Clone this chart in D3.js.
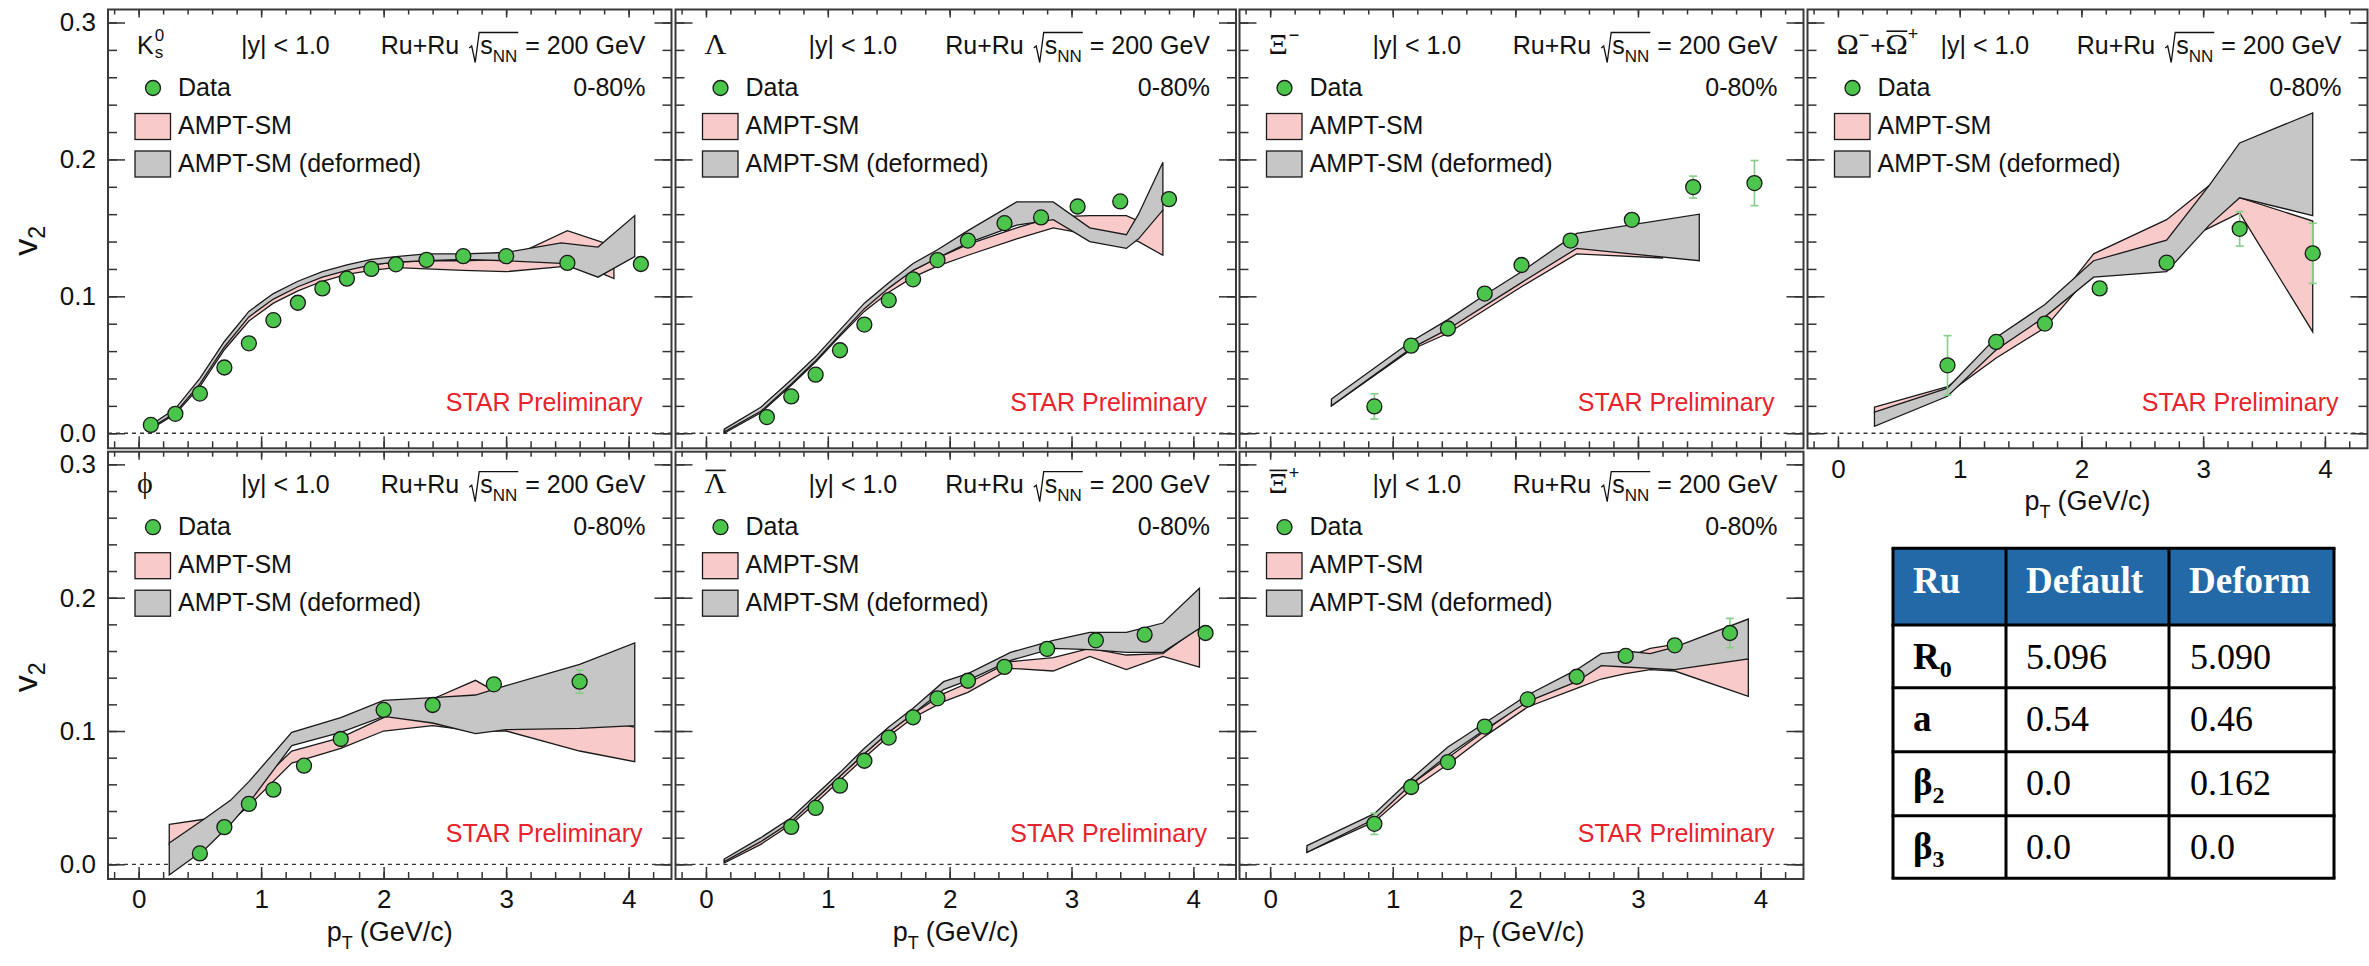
<!DOCTYPE html>
<html>
<head>
<meta charset="utf-8">
<script src="https://cdn.jsdelivr.net/npm/d3@7"></script>
<style>
  html, body { margin: 0; padding: 0; background: #fff; }
  svg { display: block; }
</style>
</head>
<body>
<svg id="chart" width="2369" height="966"></svg>
<script>
// ---------------- data: v2 vs pT, Ru+Ru 200 GeV, 0-80% ----------------

// K0s
const k0sPt  = [0.1, 0.3, 0.5, 0.7, 0.9, 1.1, 1.3, 1.5, 1.7, 1.9, 2.1, 2.35, 2.65, 3.0, 3.5, 4.1];
const k0sV2  = [0.0061, 0.0142, 0.029, 0.048, 0.0657, 0.0826, 0.0953, 0.1058, 0.1129, 0.12, 0.1234, 0.1266, 0.1293, 0.1293, 0.1244, 0.1236];
const k0sErr = [0.001, 0.001, 0.001, 0.001, 0.001, 0.001, 0.001, 0.001, 0.001, 0.001, 0.001, 0.001, 0.002, 0.002, 0.003, 0.004];
const k0sAmptPt = [0.1, 0.3, 0.5, 0.7, 0.9, 1.1, 1.3, 1.5, 1.7, 1.9, 2.1, 2.35, 2.65, 3.0, 3.5, 3.8, 3.88];
const k0sAmptHi = [0.005, 0.017, 0.038, 0.065, 0.086, 0.099, 0.108, 0.115, 0.120, 0.123, 0.125, 0.126, 0.126, 0.127, 0.148, 0.139, 0.137];
const k0sAmptLo = [0.003, 0.014, 0.034, 0.061, 0.082, 0.095, 0.104, 0.111, 0.116, 0.119, 0.121, 0.120, 0.119, 0.118, 0.122, 0.116, 0.113];
const k0sDefPt  = [0.1, 0.3, 0.5, 0.7, 0.9, 1.1, 1.3, 1.5, 1.7, 1.9, 2.1, 2.35, 2.65, 3.0, 3.45, 3.75, 4.05];
const k0sDefHi  = [0.006, 0.018, 0.040, 0.067, 0.089, 0.102, 0.111, 0.118, 0.123, 0.127, 0.129, 0.131, 0.131, 0.132, 0.139, 0.136, 0.159];
const k0sDefLo  = [0.004, 0.015, 0.036, 0.063, 0.085, 0.098, 0.107, 0.114, 0.119, 0.123, 0.125, 0.126, 0.127, 0.126, 0.124, 0.114, 0.129];

// Lambda
const lamPt  = [0.5, 0.7, 0.9, 1.1, 1.3, 1.5, 1.7, 1.9, 2.15, 2.45, 2.75, 3.05, 3.4, 3.8];
const lamV2  = [0.0118, 0.0269, 0.0428, 0.0606, 0.0794, 0.0972, 0.1124, 0.1265, 0.1407, 0.1534, 0.1576, 0.1656, 0.1693, 0.171];
const lamErr = [0.001, 0.001, 0.001, 0.001, 0.001, 0.001, 0.001, 0.001, 0.002, 0.002, 0.002, 0.003, 0.003, 0.004];
const lamBandPt = [0.15, 0.45, 0.7, 0.9, 1.1, 1.3, 1.5, 1.7, 1.9, 2.15, 2.55, 2.85, 3.15, 3.45, 3.55, 3.75];
const lamAmptHi = [0.002, 0.018, 0.038, 0.055, 0.074, 0.093, 0.107, 0.119, 0.128, 0.138, 0.150, 0.158, 0.159, 0.159, 0.155, 0.163];
const lamAmptLo = [0.000, 0.015, 0.035, 0.052, 0.071, 0.089, 0.103, 0.114, 0.122, 0.130, 0.142, 0.150, 0.145, 0.143, 0.140, 0.130];
const lamDefHi  = [0.003, 0.019, 0.039, 0.056, 0.0755, 0.095, 0.110, 0.124, 0.134, 0.148, 0.169, 0.169, 0.150, 0.145, 0.160, 0.198];
const lamDefLo  = [0.001, 0.016, 0.036, 0.053, 0.072, 0.091, 0.106, 0.119, 0.128, 0.139, 0.152, 0.156, 0.140, 0.135, 0.142, 0.163];

// Xi-
const xiPt  = [0.85, 1.15, 1.45, 1.75, 2.05, 2.45, 2.95, 3.45, 3.95];
const xiV2  = [0.0196, 0.064, 0.0765, 0.102, 0.1229, 0.1407, 0.1559, 0.1798, 0.1827];
const xiErr = [0.0092, 0.003, 0.003, 0.003, 0.003, 0.003, 0.004, 0.008, 0.0165];
const xiAmptPt = [0.5, 1.15, 1.45, 1.75, 2.05, 2.5, 3.2];
const xiAmptHi = [0.022, 0.064, 0.077, 0.094, 0.111, 0.136, 0.130];
const xiAmptLo = [0.020, 0.061, 0.073, 0.090, 0.107, 0.131, 0.128];
const xiDefPt  = [0.5, 1.15, 1.45, 1.75, 2.05, 2.5, 3.5];
const xiDefHi  = [0.025, 0.067, 0.083, 0.101, 0.118, 0.146, 0.160];
const xiDefLo  = [0.020, 0.062, 0.076, 0.093, 0.110, 0.135, 0.126];

// Omega- + anti-Omega+
const omePt  = [0.9, 1.3, 1.7, 2.15, 2.7, 3.3, 3.9];
const omeV2  = [0.0496, 0.0667, 0.0801, 0.1058, 0.1246, 0.1493, 0.1314];
const omeErr = [0.0217, 0.004, 0.003, 0.004, 0.004, 0.0126, 0.022];
const omeBandPt = [0.3, 0.9, 1.3, 1.7, 2.1, 2.7, 3.05, 3.3, 3.9];
const omeAmptHi = [0.019, 0.034, 0.061, 0.086, 0.131, 0.156, 0.181, 0.172, 0.155];
const omeAmptLo = [0.015, 0.029, 0.055, 0.077, 0.119, 0.135, 0.150, 0.161, 0.074];
const omeDefHi  = [0.0155, 0.033, 0.070, 0.094, 0.126, 0.141, 0.181, 0.212, 0.234];
const omeDefLo  = [0.005, 0.027, 0.061, 0.085, 0.114, 0.118, 0.152, 0.172, 0.159];

// phi
const phiPt  = [0.5, 0.7, 0.9, 1.1, 1.35, 1.65, 2.0, 2.4, 2.9, 3.6];
const phiV2  = [0.0082, 0.0279, 0.0453, 0.056, 0.074, 0.094, 0.1158, 0.1195, 0.135, 0.137];
const phiErr = [0.002, 0.002, 0.002, 0.002, 0.002, 0.003, 0.003, 0.004, 0.004, 0.0087];
const phiBandPt = [0.25, 0.55, 0.75, 0.9, 1.25, 1.65, 2.0, 2.4, 2.75, 3.0, 3.6, 4.05];
const phiAmptHi = [0.030, 0.034, 0.042, 0.054, 0.085, 0.095, 0.110, 0.124, 0.138, 0.125, 0.110, 0.103];
const phiAmptLo = [0.015, 0.022, 0.032, 0.044, 0.076, 0.087, 0.100, 0.104, 0.100, 0.100, 0.085, 0.077];
const phiDefHi  = [0.016, 0.035, 0.048, 0.062, 0.099, 0.110, 0.123, 0.125, 0.127, 0.134, 0.150, 0.166];
const phiDefLo  = [-0.008, 0.012, 0.030, 0.046, 0.089, 0.099, 0.111, 0.106, 0.098, 0.101, 0.102, 0.104];

// anti-Lambda
const lbPt  = [0.7, 0.9, 1.1, 1.3, 1.5, 1.7, 1.9, 2.15, 2.45, 2.8, 3.2, 3.6, 4.1];
const lbV2  = [0.0281, 0.0423, 0.059, 0.0777, 0.0951, 0.1103, 0.1245, 0.1377, 0.1481, 0.1616, 0.168, 0.1723, 0.1735];
const lbErr = [0.001, 0.001, 0.001, 0.001, 0.001, 0.001, 0.001, 0.002, 0.002, 0.002, 0.003, 0.003, 0.004];
const lbBandPt = [0.15, 0.45, 0.7, 0.9, 1.1, 1.3, 1.5, 1.7, 1.95, 2.15, 2.5, 2.85, 3.15, 3.45, 3.75, 4.05];
const lbAmptHi = [0.003, 0.018, 0.033, 0.049, 0.066, 0.083, 0.099, 0.113, 0.128, 0.136, 0.152, 0.155, 0.162, 0.157, 0.158, 0.178];
const lbAmptLo = [0.001, 0.015, 0.030, 0.046, 0.063, 0.080, 0.096, 0.110, 0.122, 0.129, 0.147, 0.145, 0.156, 0.146, 0.156, 0.148];
const lbDefHi  = [0.004, 0.020, 0.035, 0.052, 0.069, 0.087, 0.103, 0.117, 0.137, 0.143, 0.159, 0.168, 0.174, 0.174, 0.181, 0.207];
const lbDefLo  = [0.002, 0.017, 0.032, 0.049, 0.066, 0.083, 0.099, 0.113, 0.131, 0.138, 0.153, 0.162, 0.161, 0.159, 0.159, 0.177];

// anti-Xi+
const xbPt  = [0.85, 1.15, 1.45, 1.75, 2.1, 2.5, 2.9, 3.3, 3.75];
const xbV2  = [0.0304, 0.058, 0.0767, 0.1033, 0.1237, 0.1407, 0.1563, 0.1643, 0.1735];
const xbErr = [0.008, 0.003, 0.003, 0.003, 0.003, 0.004, 0.004, 0.005, 0.011];
const xbBandPt = [0.3, 0.85, 1.15, 1.45, 1.75, 2.1, 2.5, 2.7, 2.9, 3.1, 3.3, 3.9];
const xbAmptHi = [0.012, 0.036, 0.060, 0.080, 0.100, 0.123, 0.140, 0.150, 0.155, 0.162, 0.165, 0.154];
const xbAmptLo = [0.009, 0.032, 0.056, 0.075, 0.096, 0.118, 0.132, 0.139, 0.143, 0.146, 0.145, 0.126];
const xbDefHi  = [0.014, 0.038, 0.064, 0.088, 0.106, 0.127, 0.146, 0.158, 0.160, 0.158, 0.163, 0.184];
const xbDefLo  = [0.009, 0.034, 0.060, 0.082, 0.101, 0.122, 0.137, 0.149, 0.148, 0.147, 0.146, 0.154];

// axis ticks
const xMajorTicks = [0, 1, 2, 3, 4];
const xMinorTicks = d3.range(-1, 22).map(i => +(i * 0.2).toFixed(1));
const yMajorTicks = [0, 0.1, 0.2, 0.3];
const yMinorTicks = d3.range(0, 16).map(i => +(i * 0.02).toFixed(2));

// Woods-Saxon parameter table
const tableHeader = ["Ru", "Default", "Deform"];
const paramSymbol = ["R", "a", "\u03B2", "\u03B2"];
const paramIndex  = ["0", "", "2", "3"];
const defaultVals = ["5.096", "0.54", "0.0", "0.0"];
const deformVals  = ["5.090", "0.46", "0.162", "0.0"];

// ---------------- layout & style ----------------
const SANS  = "'Liberation Sans', Arial, Helvetica, sans-serif";
const SERIF = "'Liberation Serif', 'Times New Roman', serif";
const INK = "#111";
const PINK = "#f9caca", GRAY = "#c6c6c6", GREEN = "#4cc54c", ERRGREEN = "#86cf86", RED = "#e8232b", BLUE = "#2369a7";

const xDomain = [-0.25, 4.35];
const yDomain = [-0.011, 0.3095];
const colX = [[108, 671.5], [675.5, 1236], [1239.5, 1803.5], [1807.5, 2367.5]];
const rowY = [[9.5, 448.3], [451.7, 879]];
const rowShift = [0, -3];

const panels = [
  { key: "k0s", row: 0, col: 0, label: "k0s", pt: k0sPt, v2: k0sV2, err: k0sErr,
    ampt: { pt: k0sAmptPt, hi: k0sAmptHi, lo: k0sAmptLo }, def: { pt: k0sDefPt, hi: k0sDefHi, lo: k0sDefLo }, showX: false },
  { key: "lam", row: 0, col: 1, label: "lambda", pt: lamPt, v2: lamV2, err: lamErr,
    ampt: { pt: lamBandPt, hi: lamAmptHi, lo: lamAmptLo }, def: { pt: lamBandPt, hi: lamDefHi, lo: lamDefLo }, showX: false },
  { key: "xi", row: 0, col: 2, label: "xi", pt: xiPt, v2: xiV2, err: xiErr,
    ampt: { pt: xiAmptPt, hi: xiAmptHi, lo: xiAmptLo }, def: { pt: xiDefPt, hi: xiDefHi, lo: xiDefLo }, showX: false },
  { key: "ome", row: 0, col: 3, label: "omega", pt: omePt, v2: omeV2, err: omeErr,
    ampt: { pt: omeBandPt, hi: omeAmptHi, lo: omeAmptLo }, def: { pt: omeBandPt, hi: omeDefHi, lo: omeDefLo }, showX: true },
  { key: "phi", row: 1, col: 0, label: "phi", pt: phiPt, v2: phiV2, err: phiErr,
    ampt: { pt: phiBandPt, hi: phiAmptHi, lo: phiAmptLo }, def: { pt: phiBandPt, hi: phiDefHi, lo: phiDefLo }, showX: true },
  { key: "lb", row: 1, col: 1, label: "lambdabar", pt: lbPt, v2: lbV2, err: lbErr,
    ampt: { pt: lbBandPt, hi: lbAmptHi, lo: lbAmptLo }, def: { pt: lbBandPt, hi: lbDefHi, lo: lbDefLo }, showX: true },
  { key: "xb", row: 1, col: 2, label: "xibar", pt: xbPt, v2: xbV2, err: xbErr,
    ampt: { pt: xbBandPt, hi: xbAmptHi, lo: xbAmptLo }, def: { pt: xbBandPt, hi: xbDefHi, lo: xbDefLo }, showX: true }
];

// particle names as sequences of text runs
const particleRuns = {
  k0s: [{ t: "K", size: 25 }, { t: "0", size: 17, dy: -13, gap: 1 }, { t: "s", size: 17, dy: 4, stack: true }],
  lambda: [{ t: "\u039B", size: 30, font: SERIF }],
  xi: [{ t: "\u039E", size: 30, font: SERIF }, { t: "\u2212", size: 18, dy: -13, gap: 1 }],
  omega: [{ t: "\u03A9", size: 30, font: SERIF }, { t: "\u2212", size: 18, dy: -13 }, { t: "+", size: 26, gap: 1 },
          { t: "\u03A9", size: 30, font: SERIF, over: true }, { t: "+", size: 18, dy: -14 }],
  phi: [{ t: "\u03D5", size: 30, font: SERIF }],
  lambdabar: [{ t: "\u039B", size: 30, font: SERIF, over: true }],
  xibar: [{ t: "\u039E", size: 30, font: SERIF, over: true }, { t: "+", size: 18, dy: -14, gap: 1 }]
};

const svg = d3.select("#chart");

// text made of runs placed one after another; returns the group
function richText(parent, x, y, runs, anchor = "start", color = INK) {
  const grp = parent.append("g");
  let cx = 0, lastX = 0;
  runs.forEach(r => {
    const px = r.stack ? lastX : cx + (r.gap || 0);
    const t = grp.append("text")
      .attr("x", px).attr("y", r.dy || 0)
      .attr("font-size", r.size)
      .attr("font-family", r.font || SANS)
      .attr("font-weight", r.bold ? "bold" : null)
      .attr("fill", r.color || color)
      .text(r.t);
    const w = t.node().getComputedTextLength();
    if (r.over) {
      const oy = (r.dy || 0) - r.size * 0.76;
      grp.append("line").attr("x1", px + 1).attr("x2", px + w - 0.5)
        .attr("y1", oy).attr("y2", oy).attr("stroke", color).attr("stroke-width", 1.6);
    }
    if (!r.stack) lastX = px;
    cx = Math.max(cx, px + w);
  });
  const shift = anchor === "end" ? -cx : anchor === "middle" ? -cx / 2 : 0;
  grp.attr("transform", `translate(${x + shift},${y})`);
  return grp;
}

// "Ru+Ru sqrt(s_NN) = 200 GeV", right aligned
function energyLabel(parent, xRight, yBase) {
  const grp = parent.append("g");
  let cx = 0;
  const add = (txt, size, dy) => {
    const t = grp.append("text").attr("x", cx).attr("y", dy).attr("font-size", size)
      .attr("font-family", SANS).attr("fill", INK).text(txt);
    cx += t.node().getComputedTextLength();
  };
  add("Ru+Ru", 25, 0);
  cx += 10;
  const rx = cx;
  cx += 11;
  add("s", 25, 0);
  add("NN", 17, 7.5);
  const oEnd = cx + 1;
  grp.append("path")
    .attr("d", `M${rx},-6 L${rx + 2.5},-8 L${rx + 6},8.5 L${rx + 10},-21.5 L${oEnd},-21.5`)
    .attr("fill", "none").attr("stroke", INK).attr("stroke-width", 1.3);
  cx += 8;
  add("= 200 GeV", 25, 0);
  grp.attr("transform", `translate(${xRight - cx},${yBase})`);
}

function axisLayer(g, gen, transform) {
  const a = g.append("g").attr("transform", transform).call(gen);
  a.select(".domain").remove();
  a.selectAll("line").attr("stroke", "#333").attr("stroke-width", 1.5);
  a.attr("font-family", SANS).attr("font-size", 26);
  a.selectAll("text").attr("fill", INK);
  return a;
}

function drawPanel(p) {
  const [x0, x1] = colX[p.col];
  const [y0, y1] = rowY[p.row];
  const sh = rowShift[p.row];
  const x = d3.scaleLinear().domain(xDomain).range([x0, x1]);
  const y = d3.scaleLinear().domain(yDomain).range([y1, y0]);
  const g = svg.append("g").attr("class", `panel-${p.key}`);

  const clipId = `clip-${p.key}`;
  svg.append("clipPath").attr("id", clipId)
    .append("rect").attr("x", x0).attr("y", y0).attr("width", x1 - x0).attr("height", y1 - y0);

  // zero reference line
  g.append("line").attr("x1", x0).attr("x2", x1).attr("y1", y(0)).attr("y2", y(0))
    .attr("stroke", "#333").attr("stroke-width", 1.3).attr("stroke-dasharray", "4 4");

  // model bands: AMPT-SM (pink) then deformed (gray)
  const area = d3.area().x(d => x(d.pt)).y0(d => y(d.lo)).y1(d => y(d.hi));
  const bands = g.append("g").attr("clip-path", `url(#${clipId})`);
  [[p.ampt, PINK], [p.def, GRAY]].forEach(([b, fill]) => {
    const rows = b.pt.map((v, i) => ({ pt: v, lo: b.lo[i], hi: b.hi[i] }));
    bands.append("path").datum(rows).attr("d", area)
      .attr("fill", fill).attr("stroke", "#1a1a1a").attr("stroke-width", 1.3);
  });

  // data points with statistical errors
  const pts = p.pt.map((v, i) => ({ pt: v, v2: p.v2[i], err: p.err[i] }));
  const eb = g.append("g").attr("stroke", ERRGREEN).attr("stroke-width", 1.6);
  pts.forEach(d => {
    const cx = x(d.pt), top = y(d.v2 + d.err), bot = y(d.v2 - d.err);
    eb.append("line").attr("x1", cx).attr("x2", cx).attr("y1", top).attr("y2", bot);
    eb.append("line").attr("x1", cx - 4).attr("x2", cx + 4).attr("y1", top).attr("y2", top);
    eb.append("line").attr("x1", cx - 4).attr("x2", cx + 4).attr("y1", bot).attr("y2", bot);
  });
  g.append("g").selectAll("circle").data(pts).join("circle")
    .attr("cx", d => x(d.pt)).attr("cy", d => y(d.v2)).attr("r", 7.5)
    .attr("fill", GREEN).attr("stroke", "#1a1a1a").attr("stroke-width", 1.3);

  // ticks on all four sides, pointing inward
  axisLayer(g, d3.axisBottom(x).tickValues(xMinorTicks).tickSize(-7).tickFormat(""), `translate(0,${y1})`);
  axisLayer(g, d3.axisBottom(x).tickValues(xMajorTicks).tickSize(-12).tickPadding(11)
    .tickFormat(p.showX ? d3.format("d") : ""), `translate(0,${y1})`);
  axisLayer(g, d3.axisTop(x).tickValues(xMinorTicks).tickSize(-5).tickFormat(""), `translate(0,${y0})`);
  axisLayer(g, d3.axisTop(x).tickValues(xMajorTicks).tickSize(-8).tickFormat(""), `translate(0,${y0})`);
  axisLayer(g, d3.axisLeft(y).tickValues(yMinorTicks).tickSize(-9).tickFormat(""), `translate(${x0},0)`);
  axisLayer(g, d3.axisLeft(y).tickValues(yMajorTicks).tickSize(-17).tickPadding(12)
    .tickFormat(p.col === 0 ? d3.format(".1f") : ""), `translate(${x0},0)`);
  axisLayer(g, d3.axisRight(y).tickValues(yMinorTicks).tickSize(-9).tickFormat(""), `translate(${x1},0)`);
  axisLayer(g, d3.axisRight(y).tickValues(yMajorTicks).tickSize(-17).tickFormat(""), `translate(${x1},0)`);

  // frame
  g.append("rect").attr("x", x0).attr("y", y0).attr("width", x1 - x0).attr("height", y1 - y0)
    .attr("fill", "none").attr("stroke", "#3a3a3a").attr("stroke-width", 2);

  // header line
  const ty = y0 + sh;
  richText(g, x0 + 29, ty + 44.5, particleRuns[p.label]);
  g.append("text").attr("x", x0 + 133).attr("y", ty + 44.5).attr("font-family", SANS)
    .attr("font-size", 25).attr("fill", INK).text("|y| < 1.0");
  energyLabel(g, x1 - 26, ty + 44.5);
  g.append("text").attr("x", x1 - 26).attr("y", ty + 86).attr("text-anchor", "end")
    .attr("font-family", SANS).attr("font-size", 25).attr("fill", INK).text("0-80%");

  // legend
  g.append("circle").attr("cx", x0 + 45).attr("cy", ty + 78.5).attr("r", 7.5)
    .attr("fill", GREEN).attr("stroke", "#1a1a1a").attr("stroke-width", 1.3);
  g.append("text").attr("x", x0 + 70).attr("y", ty + 86.5).attr("font-family", SANS)
    .attr("font-size", 25).attr("fill", INK).text("Data");
  [[PINK, "AMPT-SM", 104], [GRAY, "AMPT-SM (deformed)", 141.5]].forEach(([fill, name, by]) => {
    g.append("rect").attr("x", x0 + 27).attr("y", ty + by).attr("width", 35.5).attr("height", 26)
      .attr("fill", fill).attr("stroke", "#1a1a1a").attr("stroke-width", 1.3);
    g.append("text").attr("x", x0 + 70).attr("y", ty + by + 20.5).attr("font-family", SANS)
      .attr("font-size", 25).attr("fill", INK).text(name);
  });

  // preliminary tag
  g.append("text").attr("x", x1 - 29).attr("y", y1 - 37).attr("text-anchor", "end")
    .attr("font-family", SANS).attr("font-size", 25).attr("fill", RED).text("STAR Preliminary");

  // axis titles
  if (p.showX) {
    richText(g, (x0 + x1) / 2, y1 + 62,
      [{ t: "p", size: 27 }, { t: "T", size: 18, dy: 8 }, { t: "(GeV/c)", size: 27, gap: 7 }], "middle");
  }
  if (p.col === 0) {
    const yt = svg.append("g").attr("transform", `translate(37,${(y0 + y1) / 2 + 12}) rotate(-90)`);
    richText(yt, 0, 0, [{ t: "v", size: 34 }, { t: "2", size: 23, dy: 8 }], "middle");
  }
}

panels.forEach(drawPanel);

// ---------------- parameter table ----------------
const tableCols = [1893, 2006, 2169, 2334];
const tableRows = [548.3, 625, 687.7, 751.7, 815.7, 878.3];
const tg = svg.append("g").attr("class", "param-table");
tg.append("rect").attr("x", tableCols[0]).attr("y", tableRows[0])
  .attr("width", tableCols[3] - tableCols[0]).attr("height", tableRows[1] - tableRows[0]).attr("fill", BLUE);
tableRows.forEach(ry => tg.append("line").attr("x1", tableCols[0] - 1.5).attr("x2", tableCols[3] + 1.5)
  .attr("y1", ry).attr("y2", ry).attr("stroke", "#000").attr("stroke-width", 3));
tableCols.forEach(cx => tg.append("line").attr("x1", cx).attr("x2", cx)
  .attr("y1", tableRows[0]).attr("y2", tableRows[5]).attr("stroke", "#000").attr("stroke-width", 3));

tableHeader.forEach((h, i) => {
  tg.append("text").attr("x", tableCols[i] + 20).attr("y", tableRows[0] + 45)
    .attr("font-family", SERIF).attr("font-weight", "bold").attr("font-size", 37)
    .attr("fill", "#fff").text(h);
});
paramSymbol.forEach((s, i) => {
  const base = tableRows[i + 1] + 43.5;
  const runs = [{ t: s, size: 37, bold: true, font: SERIF }];
  if (paramIndex[i]) runs.push({ t: paramIndex[i], size: 24, bold: true, font: SERIF, dy: 8 });
  richText(tg, tableCols[0] + 20, base, runs, "start", "#000");
  tg.append("text").attr("x", tableCols[1] + 20).attr("y", base).attr("font-family", SERIF)
    .attr("font-size", 36).attr("fill", "#000").text(defaultVals[i]);
  tg.append("text").attr("x", tableCols[2] + 21).attr("y", base).attr("font-family", SERIF)
    .attr("font-size", 36).attr("fill", "#000").text(deformVals[i]);
});
</script>
</body>
</html>
